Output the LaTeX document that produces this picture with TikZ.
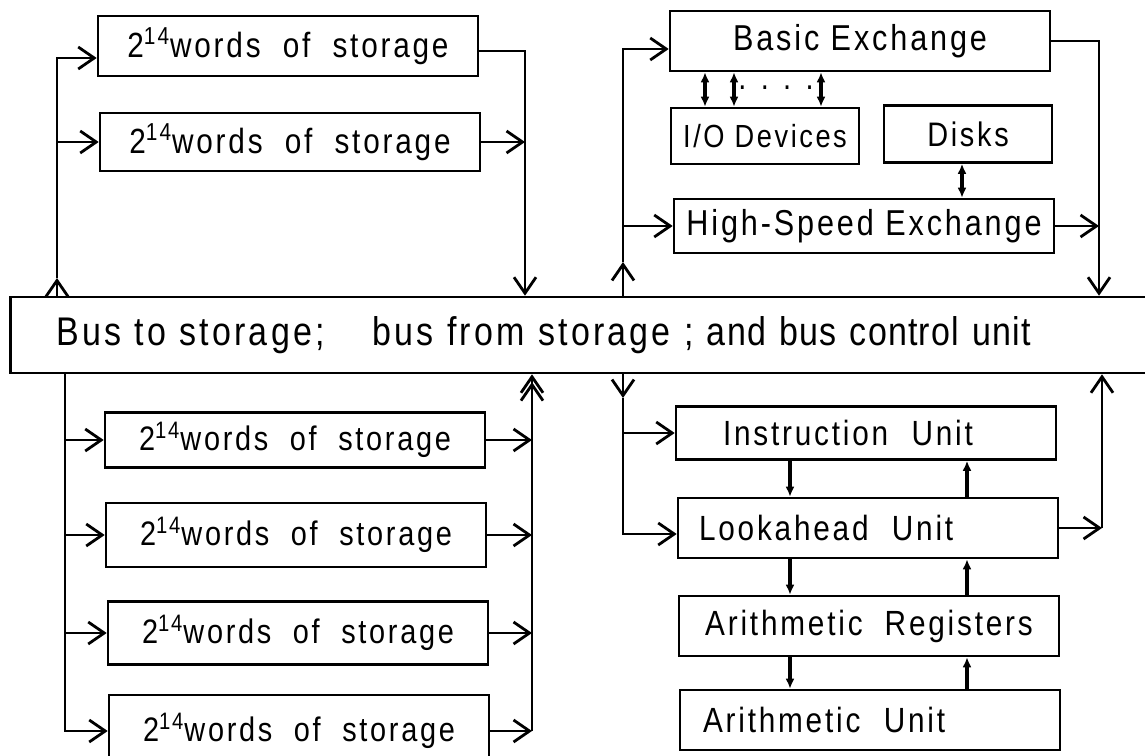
\documentclass[tikz,border=0pt]{standalone}
\usepackage{fontspec}
\setmainfont[FakeStretch=0.85, LetterSpace=8]{Liberation Sans}
\usetikzlibrary{arrows.meta}

\newcommand{\store}{2\textsuperscript{14}words \ of \ storage}
\newcommand{\lettering}[1]{\fontsize{#1}{#1}\selectfont}

\tikzset{
  unit/.style={draw, line width=1.3pt, minimum width=190pt, minimum height=30pt, inner sep=2pt,
    font=\lettering{17}},
  bigarrow/.style={-{Straight Barb[length=8pt,width=11pt]}},
  dblarrow/.style={-{Straight Barb[length=8pt,width=11pt,sep=-6pt]Straight Barb[length=8pt,width=11pt]}},
  small/.style={line width=1.8pt, -{Latex[length=5pt,width=4.5pt]}},
  smallboth/.style={line width=1.8pt, {Latex[length=5pt,width=4.5pt]}-{Latex[length=5pt,width=4.5pt]}}
}

\begin{document}
\begin{tikzpicture}[x=0.5pt, y=-0.5pt, line width=1.4pt]
\clip (0,0) rectangle (1145,755);

% storage above the bus
\node[unit, font=\lettering{17.5}] (s1) at (288,46) {\store};
\node[unit, minimum height=29pt, font=\lettering{17.5}] (s2) at (290,142) {\store};

% exchanges
\node[unit, font=\lettering{18}] (be) at (860,41) {Basic Exchange};
\node[unit, minimum width=94pt, minimum height=28pt, inner xsep=0pt, font=\lettering{16}] (io) at (765,136) {I/O Devices};
\node[unit, minimum width=84pt, minimum height=28.5pt] (dk) at (968,134) {Disks};
\node[unit, minimum height=27pt, inner xsep=0pt, font=\lettering{18}] (hs) at (864,226) {High-Speed Exchange};
\node[font=\lettering{17}] (dots) at (776,88) {. . . .};

% the bus
\node[draw, line width=1.3pt, anchor=west, minimum height=38pt, text width=560pt,
      inner xsep=23pt, align=left, font=\lettering{20}] (bus) at (9,335)
      {Bus to storage;\hspace{24pt}bus from storage {\addfontfeature{LetterSpace=3}; and bus control unit}};

% storage below the bus
\node[unit, minimum height=27.5pt] (b1) at (295,440) {\store};
\node[unit, minimum height=32pt] (b2) at (296,535) {\store};
\node[unit, minimum height=31.5pt] (b3) at (298,633) {\store};
\node[unit, minimum height=36pt] (b4) at (299,731) {\store};

% processing units
\node[unit, minimum height=26.5pt, text width=143pt, align=left, font=\lettering{17.5}] (iu) at (866,433) {Instruction \ Unit};
\node[unit, text width=169pt, align=left, font=\lettering{17.5}] (lu) at (868,528) {Lookahead \ Unit};
\node[unit, font=\lettering{17.5}] (ar) at (869,626) {Arithmetic \ Registers};
\node[unit, text width=167pt, align=left, font=\lettering{17.5}] (au) at (870,720) {Arithmetic \ Unit};

% line positions
\coordinate (tlx) at (57,278);
\coordinate (trx) at (525,51);
\coordinate (rlx) at (623,262);
\coordinate (rrx) at (1099,40);
\coordinate (blx) at (65,730);
\coordinate (brx) at (532,723);
\coordinate (rbl) at (623,398);
\coordinate (rbr) at (1102,532);

% top left
\draw[bigarrow] (bus.north -| tlx) -- (tlx);
\draw[bigarrow] (tlx) |- ([yshift=-6pt]s1.west);
\draw[bigarrow] (tlx |- s2.west) -- (s2.west);
\draw[bigarrow] ([yshift=-2.5pt]s1.east) -| (bus.north -| trx);
\draw[bigarrow] (s2.east) -- (s2.east -| trx);

% top right
\draw[bigarrow] (bus.north -| rlx) -- (rlx);
\draw[bigarrow] (rlx) |- ([yshift=-4pt]be.west);
\draw[bigarrow] (rlx |- hs.west) -- (hs.west);
\draw[bigarrow] (be.east) -| (bus.north -| rrx);
\draw[bigarrow] (hs.east) -- (hs.east -| rrx);
\foreach \x in {705,734,821}
  \draw[smallboth] (be.south -| \x,0) -- (io.north -| \x,0);
\draw[smallboth] (dk.south -| 962,0) -- (hs.north -| 962,0);

% bottom left
\draw[bigarrow] (bus.south -| blx) |- (b4.west);
\foreach \b in {b1,b2,b3} {
  \draw[bigarrow] (blx |- \b.west) -- (\b.west);
  \draw[bigarrow] (\b.east) -- (\b.east -| brx);
}
\draw[bigarrow] (b4.east) -- (b4.east -| brx);
\draw[dblarrow] (b4.east -| brx) -- (bus.south -| brx);

% bottom right
\draw[bigarrow] (bus.south -| rbl) -- (rbl);
\draw[bigarrow] (rbl) |- ([yshift=-3pt]lu.west);
\draw[bigarrow] (rbl |- iu.west) -- (iu.west);
\draw[bigarrow] (lu.east) -- (lu.east -| rbr);
\draw[bigarrow] (lu.east -| rbr) -- (bus.south -| rbr);
\foreach \u/\v in {iu/lu,lu/ar,ar/au} {
  \draw[small] (\u.south -| 790,0) -- (\v.north -| 790,0);
  \draw[small] (\v.north -| 967,0) -- (\u.south -| 967,0);
}
\end{tikzpicture}
\end{document}
